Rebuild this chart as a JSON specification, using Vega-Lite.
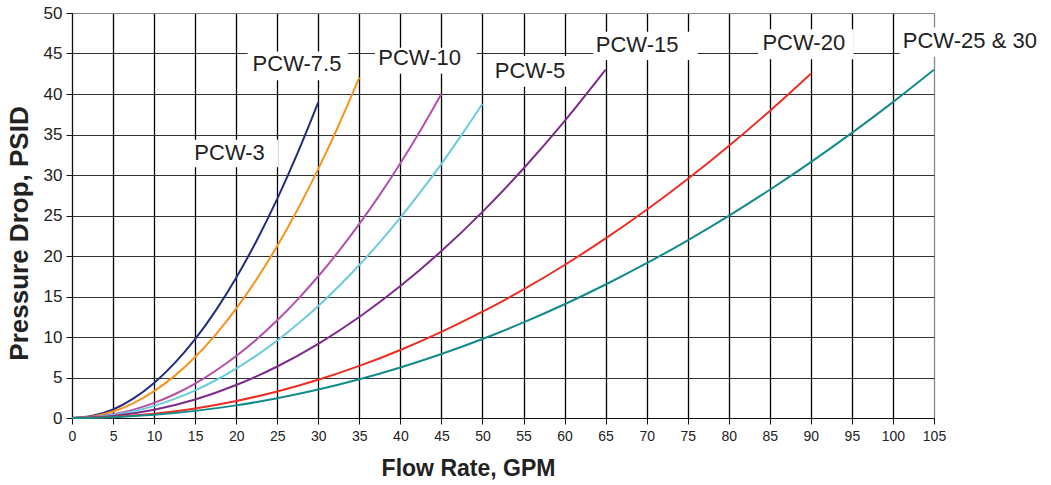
{
  "$schema": "https://vega.github.io/schema/vega-lite/v6.json",
  "width": 862,
  "height": 405,
  "autosize": {"type": "none"},
  "padding": {"left": 72, "top": 13, "right": 117, "bottom": 67},
  "background": "white",
  "config": {"view": {"stroke": null}, "font": "Liberation Sans"},
  "datasets": {
    "curves": [
      {"model": "PCW-3", "gpm": 0, "psid": 0},
      {"model": "PCW-3", "gpm": 2.5, "psid": 0.27},
      {"model": "PCW-3", "gpm": 5, "psid": 1.05},
      {"model": "PCW-3", "gpm": 7.5, "psid": 2.42},
      {"model": "PCW-3", "gpm": 10, "psid": 4.33},
      {"model": "PCW-3", "gpm": 12.5, "psid": 6.77},
      {"model": "PCW-3", "gpm": 15, "psid": 9.74},
      {"model": "PCW-3", "gpm": 17.5, "psid": 13.26},
      {"model": "PCW-3", "gpm": 20, "psid": 17.32},
      {"model": "PCW-3", "gpm": 22.5, "psid": 21.92},
      {"model": "PCW-3", "gpm": 25, "psid": 27.06},
      {"model": "PCW-3", "gpm": 27.5, "psid": 32.75},
      {"model": "PCW-3", "gpm": 30, "psid": 38.97},
      {"model": "PCW-7.5", "gpm": 0, "psid": 0},
      {"model": "PCW-7.5", "gpm": 2.5, "psid": 0.2},
      {"model": "PCW-7.5", "gpm": 5, "psid": 0.81},
      {"model": "PCW-7.5", "gpm": 7.5, "psid": 1.84},
      {"model": "PCW-7.5", "gpm": 10, "psid": 3.31},
      {"model": "PCW-7.5", "gpm": 12.5, "psid": 5.2},
      {"model": "PCW-7.5", "gpm": 15, "psid": 7.53},
      {"model": "PCW-7.5", "gpm": 17.5, "psid": 10.3},
      {"model": "PCW-7.5", "gpm": 20, "psid": 13.5},
      {"model": "PCW-7.5", "gpm": 22.5, "psid": 17.15},
      {"model": "PCW-7.5", "gpm": 25, "psid": 21.24},
      {"model": "PCW-7.5", "gpm": 27.5, "psid": 25.77},
      {"model": "PCW-7.5", "gpm": 30, "psid": 30.75},
      {"model": "PCW-7.5", "gpm": 32.5, "psid": 36.17},
      {"model": "PCW-7.5", "gpm": 35, "psid": 42.04},
      {"model": "PCW-10", "gpm": 0, "psid": 0},
      {"model": "PCW-10", "gpm": 2.5, "psid": 0.11},
      {"model": "PCW-10", "gpm": 5, "psid": 0.45},
      {"model": "PCW-10", "gpm": 7.5, "psid": 1.03},
      {"model": "PCW-10", "gpm": 10, "psid": 1.86},
      {"model": "PCW-10", "gpm": 12.5, "psid": 2.93},
      {"model": "PCW-10", "gpm": 15, "psid": 4.25},
      {"model": "PCW-10", "gpm": 17.5, "psid": 5.83},
      {"model": "PCW-10", "gpm": 20, "psid": 7.65},
      {"model": "PCW-10", "gpm": 22.5, "psid": 9.73},
      {"model": "PCW-10", "gpm": 25, "psid": 12.06},
      {"model": "PCW-10", "gpm": 27.5, "psid": 14.65},
      {"model": "PCW-10", "gpm": 30, "psid": 17.5},
      {"model": "PCW-10", "gpm": 32.5, "psid": 20.6},
      {"model": "PCW-10", "gpm": 35, "psid": 23.96},
      {"model": "PCW-10", "gpm": 37.5, "psid": 27.58},
      {"model": "PCW-10", "gpm": 40, "psid": 31.46},
      {"model": "PCW-10", "gpm": 42.5, "psid": 35.6},
      {"model": "PCW-10", "gpm": 45, "psid": 40.0},
      {"model": "PCW-5", "gpm": 0, "psid": 0},
      {"model": "PCW-5", "gpm": 2.5, "psid": 0.09},
      {"model": "PCW-5", "gpm": 5, "psid": 0.37},
      {"model": "PCW-5", "gpm": 7.5, "psid": 0.84},
      {"model": "PCW-5", "gpm": 10, "psid": 1.5},
      {"model": "PCW-5", "gpm": 12.5, "psid": 2.36},
      {"model": "PCW-5", "gpm": 15, "psid": 3.41},
      {"model": "PCW-5", "gpm": 17.5, "psid": 4.66},
      {"model": "PCW-5", "gpm": 20, "psid": 6.1},
      {"model": "PCW-5", "gpm": 22.5, "psid": 7.74},
      {"model": "PCW-5", "gpm": 25, "psid": 9.57},
      {"model": "PCW-5", "gpm": 27.5, "psid": 11.61},
      {"model": "PCW-5", "gpm": 30, "psid": 13.84},
      {"model": "PCW-5", "gpm": 32.5, "psid": 16.27},
      {"model": "PCW-5", "gpm": 35, "psid": 18.89},
      {"model": "PCW-5", "gpm": 37.5, "psid": 21.72},
      {"model": "PCW-5", "gpm": 40, "psid": 24.74},
      {"model": "PCW-5", "gpm": 42.5, "psid": 27.97},
      {"model": "PCW-5", "gpm": 45, "psid": 31.38},
      {"model": "PCW-5", "gpm": 47.5, "psid": 35.01},
      {"model": "PCW-5", "gpm": 50, "psid": 38.8},
      {"model": "PCW-15", "gpm": 0, "psid": 0},
      {"model": "PCW-15", "gpm": 5, "psid": 0.25},
      {"model": "PCW-15", "gpm": 10, "psid": 1.02},
      {"model": "PCW-15", "gpm": 15, "psid": 2.29},
      {"model": "PCW-15", "gpm": 20, "psid": 4.07},
      {"model": "PCW-15", "gpm": 25, "psid": 6.36},
      {"model": "PCW-15", "gpm": 30, "psid": 9.16},
      {"model": "PCW-15", "gpm": 35, "psid": 12.47},
      {"model": "PCW-15", "gpm": 40, "psid": 16.29},
      {"model": "PCW-15", "gpm": 45, "psid": 20.61},
      {"model": "PCW-15", "gpm": 50, "psid": 25.45},
      {"model": "PCW-15", "gpm": 55, "psid": 30.8},
      {"model": "PCW-15", "gpm": 60, "psid": 36.65},
      {"model": "PCW-15", "gpm": 65, "psid": 43.0},
      {"model": "PCW-20", "gpm": 0, "psid": 0},
      {"model": "PCW-20", "gpm": 5, "psid": 0.13},
      {"model": "PCW-20", "gpm": 10, "psid": 0.52},
      {"model": "PCW-20", "gpm": 15, "psid": 1.18},
      {"model": "PCW-20", "gpm": 20, "psid": 2.1},
      {"model": "PCW-20", "gpm": 25, "psid": 3.28},
      {"model": "PCW-20", "gpm": 30, "psid": 4.72},
      {"model": "PCW-20", "gpm": 35, "psid": 6.43},
      {"model": "PCW-20", "gpm": 40, "psid": 8.4},
      {"model": "PCW-20", "gpm": 45, "psid": 10.63},
      {"model": "PCW-20", "gpm": 50, "psid": 13.12},
      {"model": "PCW-20", "gpm": 55, "psid": 15.87},
      {"model": "PCW-20", "gpm": 60, "psid": 18.89},
      {"model": "PCW-20", "gpm": 65, "psid": 22.17},
      {"model": "PCW-20", "gpm": 70, "psid": 25.71},
      {"model": "PCW-20", "gpm": 75, "psid": 29.51},
      {"model": "PCW-20", "gpm": 80, "psid": 33.58},
      {"model": "PCW-20", "gpm": 85, "psid": 37.91},
      {"model": "PCW-20", "gpm": 90, "psid": 42.5},
      {"model": "PCW-25 & 30", "gpm": 0, "psid": 0},
      {"model": "PCW-25 & 30", "gpm": 5, "psid": 0.1},
      {"model": "PCW-25 & 30", "gpm": 10, "psid": 0.39},
      {"model": "PCW-25 & 30", "gpm": 15, "psid": 0.88},
      {"model": "PCW-25 & 30", "gpm": 20, "psid": 1.56},
      {"model": "PCW-25 & 30", "gpm": 25, "psid": 2.44},
      {"model": "PCW-25 & 30", "gpm": 30, "psid": 3.51},
      {"model": "PCW-25 & 30", "gpm": 35, "psid": 4.78},
      {"model": "PCW-25 & 30", "gpm": 40, "psid": 6.24},
      {"model": "PCW-25 & 30", "gpm": 45, "psid": 7.9},
      {"model": "PCW-25 & 30", "gpm": 50, "psid": 9.75},
      {"model": "PCW-25 & 30", "gpm": 55, "psid": 11.8},
      {"model": "PCW-25 & 30", "gpm": 60, "psid": 14.04},
      {"model": "PCW-25 & 30", "gpm": 65, "psid": 16.48},
      {"model": "PCW-25 & 30", "gpm": 70, "psid": 19.11},
      {"model": "PCW-25 & 30", "gpm": 75, "psid": 21.94},
      {"model": "PCW-25 & 30", "gpm": 80, "psid": 24.96},
      {"model": "PCW-25 & 30", "gpm": 85, "psid": 28.18},
      {"model": "PCW-25 & 30", "gpm": 90, "psid": 31.59},
      {"model": "PCW-25 & 30", "gpm": 95, "psid": 35.2},
      {"model": "PCW-25 & 30", "gpm": 100, "psid": 39.0},
      {"model": "PCW-25 & 30", "gpm": 105, "psid": 43.0}
    ],
    "labels": [
      {"label": "PCW-3", "lx": 14.9, "ly": 31.9, "bx1": 14.6, "bx2": 25.1, "by1": 30.95, "by2": 34.35},
      {"label": "PCW-7.5", "lx": 22.0, "ly": 42.8, "bx1": 21.4, "bx2": 33.6, "by1": 41.7, "by2": 45.25},
      {"label": "PCW-10", "lx": 37.3, "ly": 43.6, "bx1": 36.9, "bx2": 49.3, "by1": 42.5, "by2": 45.7},
      {"label": "PCW-5", "lx": 51.5, "ly": 41.95, "bx1": 51.2, "bx2": 60.8, "by1": 40.9, "by2": 44.7},
      {"label": "PCW-15", "lx": 63.8, "ly": 45.15, "bx1": 63.5, "bx2": 76.2, "by1": 44.2, "by2": 47.7},
      {"label": "PCW-20", "lx": 84.1, "ly": 45.45, "bx1": 83.6, "bx2": 95.2, "by1": 44.3, "by2": 48.0},
      {"label": "PCW-25 & 30", "lx": 101.2, "ly": 45.65, "bx1": 100.8, "bx2": 118, "by1": 44.6, "by2": 48.2}
    ]
  },
  "layer": [
    {
      "data": {"name": "curves"},
      "mark": {"type": "line", "strokeWidth": 2, "interpolate": "monotone"},
      "encoding": {
        "x": {
          "field": "gpm", "type": "quantitative",
          "scale": {"domain": [0, 105], "nice": false, "zero": false},
          "axis": {
            "values": [0, 2.5, 5, 7.5, 10, 12.5, 15, 17.5, 20, 22.5, 25, 27.5, 30, 32.5, 35, 37.5, 40, 42.5, 45, 47.5, 50, 52.5, 55, 57.5, 60, 62.5, 65, 67.5, 70, 72.5, 75, 77.5, 80, 82.5, 85, 87.5, 90, 92.5, 95, 97.5, 100, 102.5, 105],
            "labelExpr": "datum.value % 5 === 0 ? '' + datum.value : ''",
            "labelOverlap": false,
            "labelFlush": false,
            "labelFontSize": 14,
            "labelColor": "#222",
            "labelPadding": 5,
            "grid": true,
            "gridColor": {"condition": {"test": "datum.value === 105", "value": "#888"}, "value": "#000"},
            "gridWidth": 1.3,
            "gridOpacity": 1,
            "tickSize": 6,
            "tickColor": "#111",
            "tickOpacity": {"condition": {"test": "datum.value % 5 !== 0", "value": 0}, "value": 1},
            "domainColor": "#111",
            "title": "Flow Rate, GPM",
            "titleFontSize": 23,
            "titleFontWeight": "bold",
            "titleColor": "#222",
            "titleX": 396,
            "titleY": 57,
            "titleBaseline": "alphabetic",
            "titleAlign": "center",
            "titleAnchor": null
          }
        },
        "y": {
          "field": "psid", "type": "quantitative",
          "scale": {"domain": [0, 50], "nice": false},
          "axis": {
            "values": [0, 5, 10, 15, 20, 25, 30, 35, 40, 45, 50],
            "labelFontSize": 17,
            "labelColor": "#222",
            "labelPadding": 4,
            "labelFlush": false,
            "labelOverlap": false,
            "grid": true,
            "gridColor": {"condition": {"test": "datum.value === 50", "value": "#888"}, "value": "#333"},
            "gridWidth": 1,
            "gridOpacity": 1,
            "tickSize": 6,
            "tickColor": "#111",
            "domainColor": "#111",
            "title": "Pressure Drop, PSID",
            "titleFontSize": 26,
            "titleFontWeight": "bold",
            "titleColor": "#222",
            "titleX": -45,
            "titleY": 220,
            "titleBaseline": "alphabetic",
            "titleAlign": "center",
            "titleAngle": 270,
            "titleAnchor": null
          }
        },
        "color": {
          "field": "model", "type": "nominal",
          "scale": {
            "domain": ["PCW-3", "PCW-7.5", "PCW-10", "PCW-5", "PCW-15", "PCW-20", "PCW-25 & 30"],
            "range": ["#262C7C", "#F7941D", "#B550A8", "#6CCBDA", "#7D2C8C", "#EE2D24", "#128B8A"]
          },
          "legend": null
        }
      }
    },
    {
      "data": {"name": "labels"},
      "mark": {"type": "rect", "fill": "white", "stroke": null},
      "encoding": {
        "x": {"field": "bx1", "type": "quantitative"},
        "x2": {"field": "bx2"},
        "y": {"field": "by1", "type": "quantitative"},
        "y2": {"field": "by2"}
      }
    },
    {
      "data": {"name": "labels"},
      "mark": {"type": "text", "align": "left", "baseline": "alphabetic", "fontSize": 22, "color": "#222", "font": "Liberation Sans"},
      "encoding": {
        "x": {"field": "lx", "type": "quantitative"},
        "y": {"field": "ly", "type": "quantitative"},
        "text": {"field": "label"}
      }
    }
  ]
}
